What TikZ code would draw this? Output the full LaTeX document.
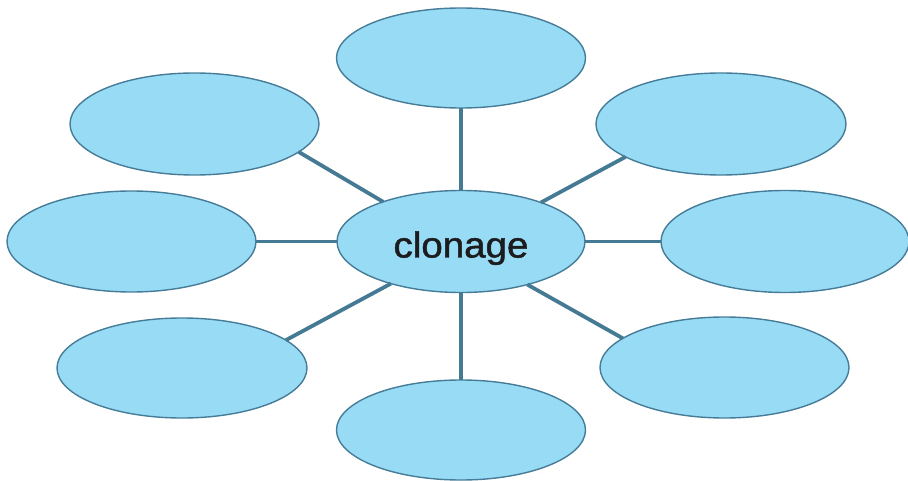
\documentclass[tikz,border=0pt]{standalone}
\usepackage{fontspec}
\setmainfont{Liberation Sans}
\newfontfamily\clofont[FakeBold=1.3]{Liberation Sans}
\usetikzlibrary{shapes.geometric}
\definecolor{bubfill}{RGB}{151,219,245}
\definecolor{bubline}{RGB}{70,124,152}
\definecolor{spkline}{RGB}{68,122,148}
\definecolor{txtcol}{RGB}{28,28,30}

\begin{document}
\begin{tikzpicture}[x=1pt, y=-1pt, bub/.style={ellipse, draw=bubline, fill=bubfill, line width=1.4pt, inner sep=0pt, outer sep=0pt, minimum width=249pt, minimum height=101pt},spk/.style={draw=spkline, line width=3.8pt}]
  \useasboundingbox (0,0) rectangle (908,481);

  \node[bub, minimum width=248pt, minimum height=102pt, text=txtcol, font=\clofont\fontsize{36}{36}\selectfont, text height=36pt, text depth=4pt] (c) at (461,241.5) {\scalebox{1.07}[1]{clonage}};

  \node[bub, minimum height=100pt] (n) at (461,58) {};
  \node[bub, minimum height=102pt] (nw) at (194.5,124) {};
  \node[bub, minimum width=250pt, minimum height=102pt] (ne) at (721,124) {};
  \node[bub] (w) at (131.5,241.5) {};
  \node[bub, minimum width=248pt, minimum height=102pt] (e) at (785,241.5) {};
  \node[bub, minimum width=250pt, minimum height=100pt] (sw) at (182,368) {};
  \node[bub] (se) at (724.5,367.5) {};
  \node[bub, minimum height=100pt] (s) at (461,430) {};

  \draw[spk] (c.90) -- (n.270);
  \draw[spk] (c.153) -- (nw.-15);
  \draw[spk] (c.26) -- (ne.-161);
  \draw[spk] (c.180) -- (w.0);
  \draw[spk] (c.0) -- (e.180);
  \draw[spk] (c.-149) -- (sw.15);
  \draw[spk] (c.-33) -- (se.164);
  \draw[spk] (c.270) -- (s.90);
\end{tikzpicture}
\end{document}
